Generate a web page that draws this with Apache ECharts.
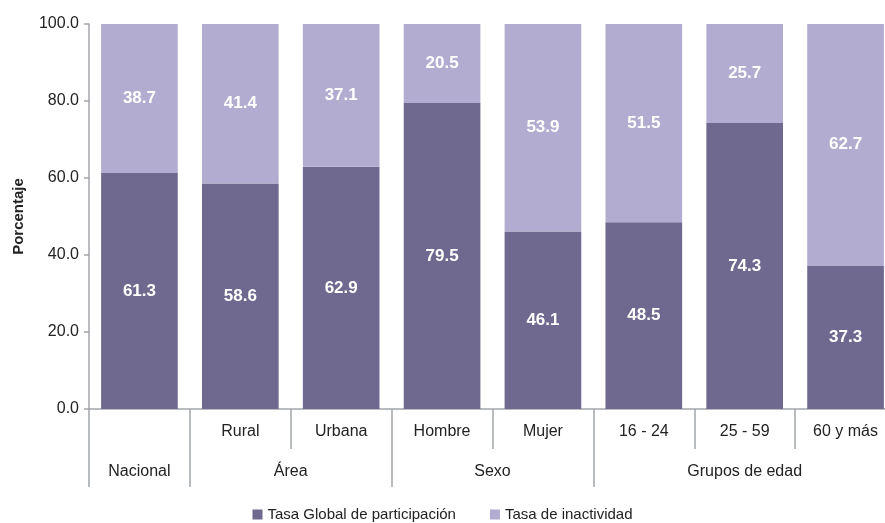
<!DOCTYPE html>
<html>
<head>
<meta charset="utf-8">
<script src="https://cdn.jsdelivr.net/npm/echarts@6/dist/echarts.min.js"></script>
<style>
  html, body { margin: 0; padding: 0; background: #fff; }
  #chart { width: 885px; height: 523px; }
</style>
</head>
<body>
<div id="chart"></div>
<script>
const categories = ['Nacional', 'Rural', 'Urbana', 'Hombre', 'Mujer', '16 - 24', '25 - 59', '60 y más']
const subLabels = ['', 'Rural', 'Urbana', 'Hombre', 'Mujer', '16 - 24', '25 - 59', '60 y más']
const groupNames = ['Nacional', 'Área', 'Sexo', 'Grupos de edad']
const groupBounds = [0, 1, 3, 5, 8]
const participacion = [61.3, 58.6, 62.9, 79.5, 46.1, 48.5, 74.3, 37.3]
const inactividad = [38.7, 41.4, 37.1, 20.5, 53.9, 51.5, 25.7, 62.7]
const yTicks = [0, 20, 40, 60, 80, 100]

const font = '"Liberation Sans Narrow", "Arial Narrow", "Liberation Sans", sans-serif'
const axisGrey = '#a3a6ab'

const groupCenters = groupNames.map((_, i) => (groupBounds[i] + groupBounds[i + 1]) / 2)

const chart = echarts.init(document.getElementById('chart'))

const barLabel = {
  show: true,
  position: 'inside',
  color: '#fff',
  fontWeight: 'bold',
  fontSize: 17,
  fontFamily: font,
  formatter: p => p.value.toFixed(1)
}

chart.setOption({
  animation: false,
  textStyle: { fontFamily: font },
  grid: { left: 89, top: 24, bottom: 114, width: 807, outerBoundsMode: 'none', containLabel: false },
  legend: {
    top: 502,
    left: 'center',
    icon: 'rect',
    itemWidth: 10,
    itemHeight: 10,
    itemGap: 34,
    textStyle: { fontSize: 15, color: '#222', fontFamily: font },
    data: ['Tasa Global de participación', 'Tasa de inactividad']
  },
  xAxis: [
    {
      type: 'category',
      data: categories,
      axisLine: { lineStyle: { color: axisGrey, width: 1.5 } },
      axisTick: { show: true, interval: 0, length: 40, lineStyle: { color: axisGrey, width: 1.5 } },
      axisLabel: {
        interval: 0,
        margin: 15,
        fontSize: 16,
        color: '#222',
        formatter: (v, i) => subLabels[i]
      }
    },
    {
      type: 'value',
      position: 'bottom',
      min: 0,
      max: 8,
      axisLine: { show: false },
      splitLine: { show: false },
      axisTick: {
        show: true,
        length: 78,
        customValues: groupBounds,
        lineStyle: { color: axisGrey, width: 1.5 }
      },
      axisLabel: {
        margin: 55,
        fontSize: 16,
        color: '#222',
        customValues: groupCenters,
        formatter: v => groupNames[groupCenters.indexOf(v)]
      }
    }
  ],
  yAxis: {
    type: 'value',
    min: yTicks[0],
    max: yTicks[yTicks.length - 1],
    interval: 20,
    name: 'Porcentaje',
    nameLocation: 'middle',
    nameGap: 63,
    nameTextStyle: { fontSize: 15, fontWeight: 'bold', color: '#222', fontFamily: font },
    axisLine: { show: true, lineStyle: { color: axisGrey, width: 1.5 } },
    axisTick: { show: true, length: 5, lineStyle: { color: axisGrey, width: 1.5 } },
    splitLine: { show: false },
    axisLabel: {
      fontSize: 16,
      color: '#222',
      margin: 10,
      formatter: v => v.toFixed(1)
    }
  },
  series: [
    {
      name: 'Tasa Global de participación',
      type: 'bar',
      stack: 'total',
      barCategoryGap: '24%',
      itemStyle: { color: '#6f698f' },
      label: barLabel,
      data: participacion
    },
    {
      name: 'Tasa de inactividad',
      type: 'bar',
      stack: 'total',
      barCategoryGap: '24%',
      itemStyle: { color: '#b1acd0' },
      label: barLabel,
      data: inactividad
    }
  ]
})
</script>
</body>
</html>
